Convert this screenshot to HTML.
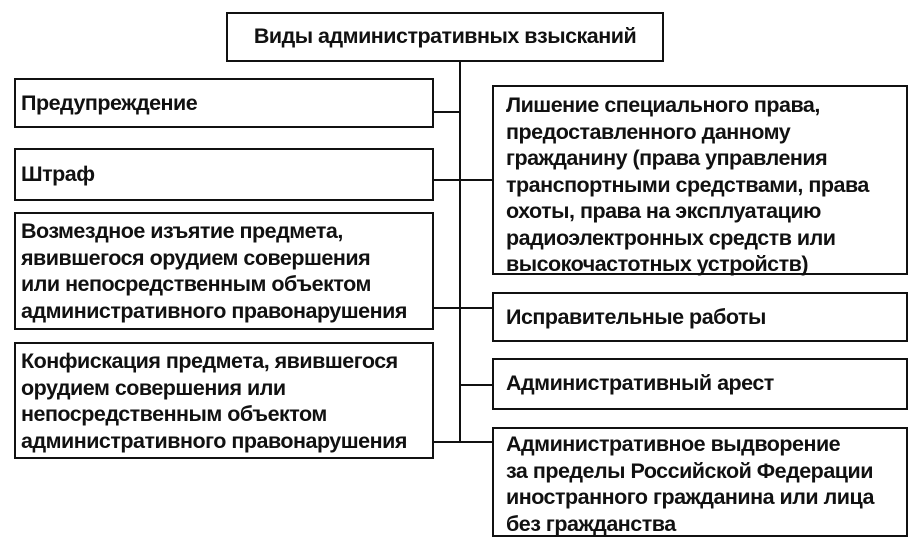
<!DOCTYPE html>
<html><head><meta charset="utf-8"><style>
body{margin:0;width:917px;height:554px;background:#fff;position:relative;overflow:hidden;font-family:"Liberation Sans",sans-serif;font-weight:bold;color:#111;}
.b{position:absolute;border:2.5px solid #111;box-sizing:border-box;font-size:21.5px;line-height:26.5px;padding:4px 0 0 5px;white-space:nowrap;letter-spacing:-0.5px;}
.l{position:absolute;background:#111;}
</style></head><body>
<div class="b" style="left:226px;top:12px;width:438px;height:50px;text-align:center;padding:9px 0 0 0;">Виды административных взысканий</div>
<div class="l" style="left:459px;top:62px;width:2px;height:381px;"></div>

<div class="b" style="left:14px;top:78px;width:420px;height:50px;padding-top:10px;">Предупреждение</div>
<div class="b" style="left:14px;top:148px;width:420px;height:53px;padding-top:11px;">Штраф</div>
<div class="b" style="left:14px;top:212px;width:420px;height:118px;">Возмездное изъятие предмета,<br>явившегося орудием совершения<br>или непосредственным объектом<br>административного правонарушения</div>
<div class="b" style="left:14px;top:342px;width:420px;height:117px;">Конфискация предмета, явившегося<br>орудием совершения или<br>непосредственным объектом<br>административного правонарушения</div>

<div class="b" style="left:492px;top:85px;width:416px;height:190px;padding:5px 0 0 12px;">Лишение специального права,<br>предоставленного данному<br>гражданину (права управления<br>транспортными средствами, права<br>охоты, права на эксплуатацию<br>радиоэлектронных средств или<br>высокочастотных устройств)</div>
<div class="b" style="left:492px;top:292px;width:416px;height:50px;padding:10px 0 0 12px;">Исправительные работы</div>
<div class="b" style="left:492px;top:358px;width:416px;height:52px;padding:10px 0 0 12px;">Административный арест</div>
<div class="b" style="left:492px;top:427px;width:416px;height:110px;padding:2px 0 0 12px;">Административное выдворение<br>за пределы Российской Федерации<br>иностранного гражданина или лица<br>без гражданства</div>

<div class="l" style="left:434px;top:111px;width:26px;height:2px;"></div>
<div class="l" style="left:434px;top:179px;width:58px;height:2px;"></div>
<div class="l" style="left:434px;top:307px;width:58px;height:2px;"></div>
<div class="l" style="left:460px;top:384px;width:32px;height:2px;"></div>
<div class="l" style="left:434px;top:441px;width:58px;height:2px;"></div>
</body></html>
